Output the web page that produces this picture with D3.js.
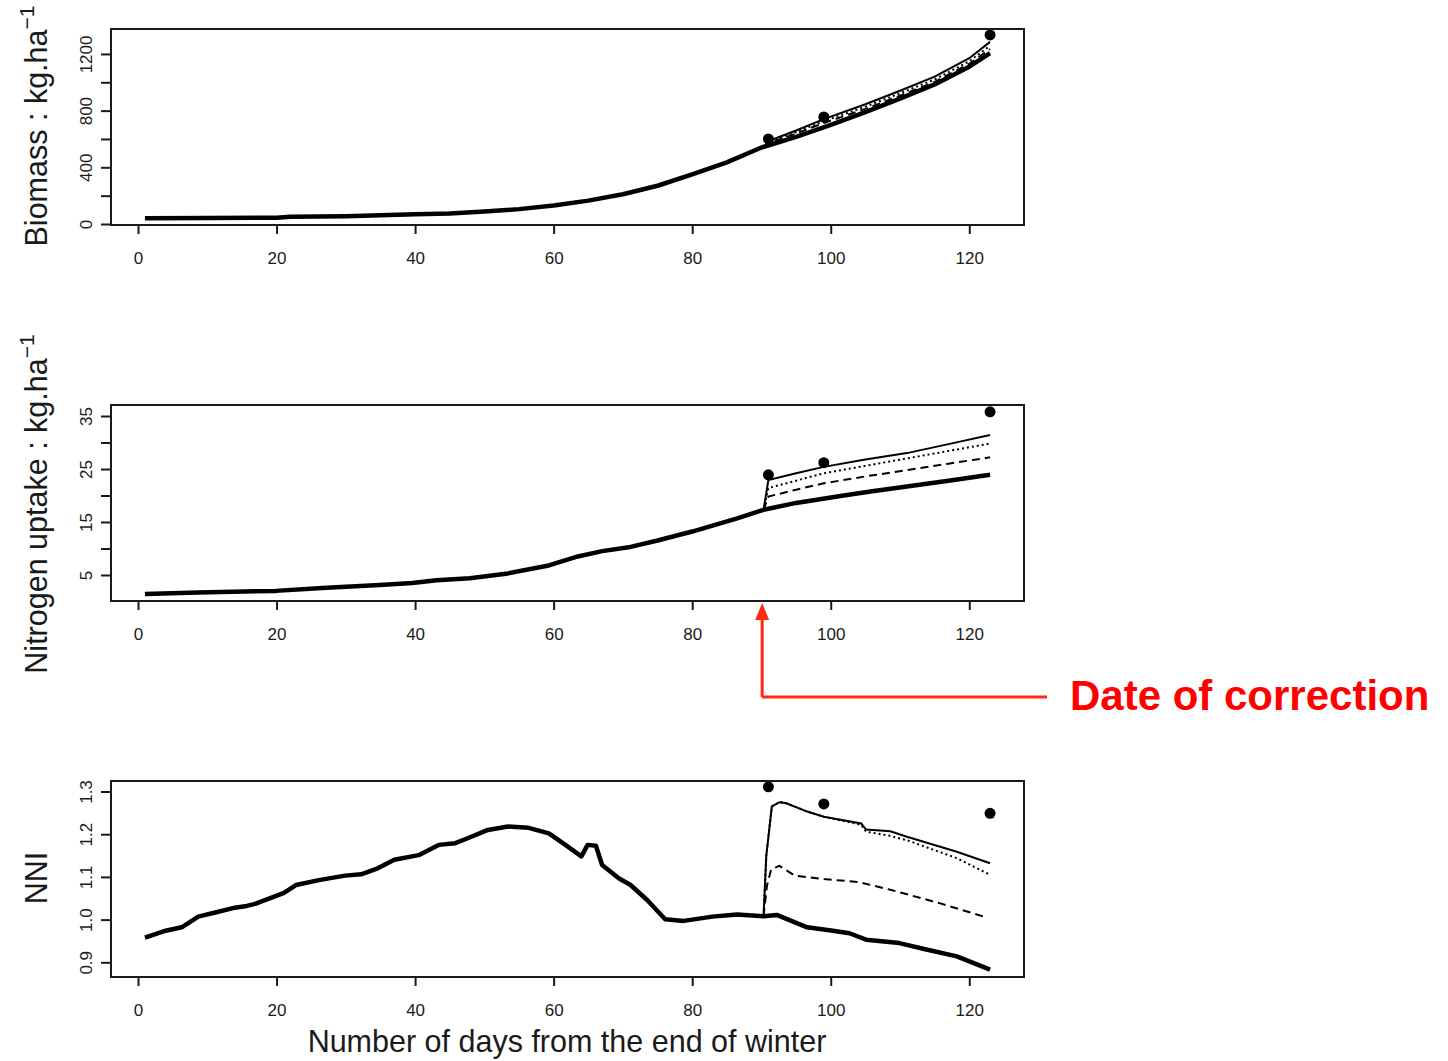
<!DOCTYPE html>
<html>
<head>
<meta charset="utf-8">
<script src="https://cdn.jsdelivr.net/npm/d3@7"></script>
<style>
body { margin:0; background:white; }
text { font-family: "Liberation Sans", Arial, sans-serif; }
</style>
</head>
<body>
<svg id="chart"></svg>
<script>

// ---- data ----
var xTicks = [0, 20, 40, 60, 80, 100, 120]
var correctionDay = 90.1

// biomass (kg/ha)
var bioDays = [1, 10, 20, 22, 30, 35, 40, 45, 50, 55, 60, 65, 70, 75, 80, 85, 90, 95, 100, 105, 110, 115, 120, 123]
var bioMain = [40, 42, 45, 52, 55, 62, 68, 75, 88, 105, 130, 165, 210, 270, 350, 435, 540, 615, 700, 790, 885, 985, 1110, 1205]
var bioCorrDays = [90.3, 91, 95, 99, 105, 110, 115, 120, 123]
var bioSolid = [540, 585, 660, 740, 845, 940, 1040, 1170, 1285]
var bioDotted = [540, 578, 648, 725, 828, 922, 1020, 1148, 1258]
var bioDashed = [540, 570, 638, 713, 812, 905, 1003, 1130, 1235]
var bioObsDays = [91, 99, 123]
var bioObs = [600, 755, 1334]
var bioTicks = [0, 200, 400, 600, 800, 1000, 1200]
var bioLabels = [0, 400, 800, 1200]

// nitrogen uptake (kg/ha)
var nDays = [1, 8.7, 19.9, 27.2, 34.9, 39.6, 43.1, 47.9, 53.4, 59.3, 63.5, 67, 71.1, 75, 80, 86.5, 90.3, 95, 101.4, 106, 111, 117, 123]
var nMain = [1.4, 1.7, 2.0, 2.6, 3.1, 3.5, 4.0, 4.4, 5.3, 6.8, 8.5, 9.5, 10.3, 11.5, 13.2, 15.7, 17.3, 18.6, 19.9, 20.8, 21.7, 22.8, 23.9]
var nCorrDays = [90.3, 91, 95, 99, 105, 111, 117, 123]
var nSolid = [17.3, 22.9, 24.2, 25.4, 26.8, 28.0, 29.7, 31.4]
var nDotted = [17.3, 21.4, 22.8, 24.2, 25.6, 27.0, 28.4, 29.8]
var nDashed = [17.3, 19.8, 21.1, 22.3, 23.6, 24.8, 26.0, 27.2]
var nObsDays = [91, 99, 123]
var nObs = [23.9, 26.2, 35.8]
var nTicks = [5, 10, 15, 20, 25, 30, 35]
var nLabels = [5, 15, 25, 35]

// nitrogen nutrition index
var nniDays = [1, 4, 6.3, 8.7, 11, 14, 15.7, 16.9, 21, 22.8, 26.3, 29.9, 32.2, 34.6, 37, 40.5, 43.4, 45.8, 47.5, 50.5, 53.4, 56.4, 59.3, 61.7, 64, 64.9, 66.1, 67, 69.4, 71.1, 73.5, 76.1, 78.8, 82.9, 86.5, 90.3, 92.2, 96.6, 99.8, 102.7, 105.1, 109.9, 113.8, 118.2, 123]
var nniMain = [0.958, 0.974, 0.982, 1.007, 1.016, 1.028, 1.032, 1.037, 1.062, 1.081, 1.093, 1.103, 1.106, 1.120, 1.140, 1.151, 1.175, 1.179, 1.190, 1.210, 1.218, 1.215, 1.202, 1.175, 1.148, 1.175, 1.173, 1.128, 1.097, 1.081, 1.046, 1.001, 0.997, 1.007, 1.012, 1.008, 1.011, 0.982, 0.975, 0.968, 0.953, 0.945, 0.930, 0.914, 0.883]
var nniSolidDays = [90.3, 90.7, 91.5, 92.6, 93.5, 96.6, 99, 104.4, 105.1, 108.6, 111, 118.2, 123]
var nniSolid = [1.008, 1.15, 1.265, 1.275, 1.273, 1.253, 1.241, 1.225, 1.211, 1.207, 1.194, 1.159, 1.132]
var nniDotted = [1.008, 1.15, 1.265, 1.275, 1.273, 1.253, 1.241, 1.222, 1.206, 1.196, 1.186, 1.144, 1.105]
var nniDashedDays = [90.3, 90.8, 91.4, 92.6, 94.8, 99, 104, 108.6, 115.8, 122.5]
var nniDashed = [1.008, 1.08, 1.118, 1.126, 1.103, 1.095, 1.088, 1.07, 1.038, 1.005]
var nniObsDays = [91, 99, 123]
var nniObs = [1.311, 1.271, 1.249]
var nniTicks = [0.9, 1.0, 1.1, 1.2, 1.3]

var zip = function(days, vals)
{
    return days.map(function(d, i) { return {day: d, v: vals[i]} })
}

var width = 1448
var height = 1061
var left = 111, right = 1024, panelH = 196

var svg = d3.select("#chart")
    .attr("width", width)
    .attr("height", height)

svg.append("rect")
    .attr("width", width)
    .attr("height", height)
    .attr("fill", "white")

var xScale = d3.scaleLinear()
    .domain([-3.9, 127.9])
    .range([left, right])

var panels = [
    {
        top: 29, domain: [-7, 1376], ticks: bioTicks, labels: bioLabels, fmt: d3.format("d"),
        title: "Biomass : kg.ha", sup: "\u22121", titleY: 126,
        main: zip(bioDays, bioMain),
        solid: zip(bioCorrDays, bioSolid),
        dotted: zip(bioCorrDays, bioDotted),
        dashed: zip(bioCorrDays, bioDashed),
        obs: zip(bioObsDays, bioObs)
    },
    {
        top: 405, domain: [0.09, 37.08], ticks: nTicks, labels: nLabels, fmt: d3.format("d"),
        title: "Nitrogen uptake : kg.ha", sup: "\u22121", titleY: 504,
        main: zip(nDays, nMain),
        solid: zip(nCorrDays, nSolid),
        dotted: zip(nCorrDays, nDotted),
        dashed: zip(nCorrDays, nDashed),
        obs: zip(nObsDays, nObs)
    },
    {
        top: 781, domain: [0.8656, 1.3246], ticks: nniTicks, labels: nniTicks, fmt: d3.format(".1f"),
        title: "NNI", sup: null, titleY: 878,
        main: zip(nniDays, nniMain),
        solid: zip(nniSolidDays, nniSolid),
        dotted: zip(nniSolidDays, nniDotted),
        dashed: zip(nniDashedDays, nniDashed),
        obs: zip(nniObsDays, nniObs)
    }
]

var drawPanel = function(p)
{
    var yScale = d3.scaleLinear()
        .domain(p.domain)
        .range([p.top + panelH, p.top])

    var line = d3.line()
        .x(function(d) { return xScale(d.day) })
        .y(function(d) { return yScale(d.v) })

    var g = svg.append("g")

    // x axis
    var xAxis = d3.axisBottom(xScale)
        .tickValues(xTicks)
        .tickSize(9)
        .tickPadding(18)
        .tickFormat(d3.format("d"))
    var gx = g.append("g")
        .attr("transform", "translate(0," + (p.top + panelH) + ")")
        .call(xAxis)
    gx.select(".domain").remove()
    gx.selectAll("line").attr("stroke", "#1a1a1a").attr("stroke-width", 2)
    gx.selectAll("text")
        .attr("fill", "#1a1a1a")
        .style("font-size", "17px")
        .style("font-family", "'Liberation Sans', Arial, sans-serif")

    // y axis, labels turned like R does
    var yAxis = d3.axisLeft(yScale)
        .tickValues(p.ticks)
        .tickSize(10)
        .tickFormat(function(d)
        {
            return p.labels.indexOf(d) >= 0 ? p.fmt(d) : ""
        })
    var gy = g.append("g")
        .attr("transform", "translate(" + left + ",0)")
        .call(yAxis)
    gy.select(".domain").remove()
    gy.selectAll("line").attr("stroke", "#1a1a1a").attr("stroke-width", 2)
    gy.selectAll("text")
        .attr("x", null)
        .attr("dy", null)
        .attr("transform", "translate(-19,0) rotate(-90)")
        .attr("text-anchor", "middle")
        .attr("fill", "#1a1a1a")
        .style("font-size", "17px")
        .style("font-family", "'Liberation Sans', Arial, sans-serif")

    // lines
    g.append("path")
        .datum(p.main)
        .attr("d", line)
        .attr("fill", "none")
        .attr("stroke", "black")
        .attr("stroke-width", 4.5)
        .attr("stroke-linejoin", "round")

    g.append("path")
        .datum(p.solid)
        .attr("d", line)
        .attr("fill", "none")
        .attr("stroke", "black")
        .attr("stroke-width", 2)

    g.append("path")
        .datum(p.dotted)
        .attr("d", line)
        .attr("fill", "none")
        .attr("stroke", "black")
        .attr("stroke-width", 2)
        .attr("stroke-dasharray", "2,3")

    g.append("path")
        .datum(p.dashed)
        .attr("d", line)
        .attr("fill", "none")
        .attr("stroke", "black")
        .attr("stroke-width", 2)
        .attr("stroke-dasharray", "8,5")

    g.selectAll("circle")
        .data(p.obs)
        .enter()
        .append("circle")
        .attr("cx", function(d) { return xScale(d.day) })
        .attr("cy", function(d) { return yScale(d.v) })
        .attr("r", 5.5)
        .attr("fill", "black")

    // box
    g.append("rect")
        .attr("x", left)
        .attr("y", p.top)
        .attr("width", right - left)
        .attr("height", panelH)
        .attr("fill", "none")
        .attr("stroke", "#1a1a1a")
        .attr("stroke-width", 2)

    // y title
    var t = g.append("text")
        .attr("transform", "translate(47," + p.titleY + ") rotate(-90)")
        .attr("text-anchor", "middle")
        .attr("fill", "#1a1a1a")
        .style("font-size", "30.5px")
    t.append("tspan").text(p.title)
    if (p.sup)
    {
        t.append("tspan")
            .attr("dy", -13)
            .style("font-size", "21px")
            .text(p.sup)
    }
}

panels.forEach(drawPanel)

// x title
svg.append("text")
    .attr("x", 567)
    .attr("y", 1052)
    .attr("text-anchor", "middle")
    .attr("fill", "#1a1a1a")
    .style("font-size", "30.5px")
    .text("Number of days from the end of winter")

// red annotation
var ax = xScale(correctionDay)
svg.append("path")
    .attr("d", "M" + ax + ",697 V618 M" + ax + ",697 H1047")
    .attr("fill", "none")
    .attr("stroke", "#ff2a10")
    .attr("stroke-width", 3)
svg.append("path")
    .attr("d", "M" + ax + ",603 L" + (ax - 7) + ",620 L" + (ax + 7) + ",620 Z")
    .attr("fill", "#ff2a10")

svg.append("text")
    .attr("x", 1070)
    .attr("y", 710)
    .attr("fill", "#ff0000")
    .style("font-size", "42px")
    .style("font-weight", "bold")
    .text("Date of correction")

</script>
</body>
</html>
